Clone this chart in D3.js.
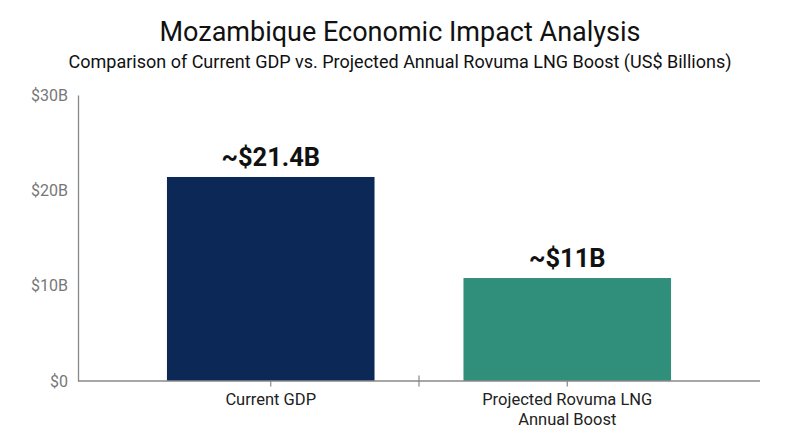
<!DOCTYPE html>
<html>
<head>
<meta charset="utf-8">
<script src="https://cdn.jsdelivr.net/npm/d3@7"></script>
<style>
  body { margin: 0; background: #fff; }
  svg { display: block; font-family: Roboto, "Noto Sans", sans-serif; }
</style>
</head>
<body>
<div id="chart"></div>
<script>
// data
var categories = ["Current GDP", "Projected Rovuma LNG Annual Boost"];
var catLines = [["Current GDP"], ["Projected Rovuma LNG", "Annual Boost"]];
var values = [21.4, 10.8];
var valueLabels = ["~$21.4B", "~$11B"];
var yTicks = [0, 10, 20, 30];
var yTickLabels = ["$0", "$10B", "$20B", "$30B"];
var colors = ["#0c2857", "#2f8f7a"];

var W = 800, H = 447;
var mLeft = 78, mRight = 760, mTop = 95, mBottom = 381;

var svg = d3.select("#chart").append("svg")
  .attr("width", W).attr("height", H);

// titles
svg.append("text").text("Mozambique Economic Impact Analysis")
  .attr("x", W / 2).attr("y", 41)
  .attr("text-anchor", "middle")
  .style("font-size", "27px").style("fill", "#111");
svg.append("text").text("Comparison of Current GDP vs. Projected Annual Rovuma LNG Boost (US$ Billions)")
  .attr("x", W / 2).attr("y", 67.5)
  .attr("text-anchor", "middle")
  .style("font-size", "18px").style("fill", "#111");

var x = d3.scaleBand().domain(categories).range([mLeft, mRight])
  .paddingInner(0.3).paddingOuter(0.3);
var y = d3.scaleLinear().domain([0, 30]).range([mBottom, mTop]);

// y axis (no tick marks)
var yAxis = svg.append("g").attr("transform", "translate(" + mLeft + ",0)")
  .call(d3.axisLeft(y).tickValues(yTicks).tickSize(0).tickPadding(10)
    .tickFormat(function (d, i) { return yTickLabels[i]; }));
yAxis.select(".domain").attr("stroke", "#888").attr("stroke-width", 1.3);
yAxis.selectAll("text").style("font-size", "16px").style("fill", "#777")
  .style("font-family", "Roboto, sans-serif");

// bars
svg.selectAll("rect.bar").data(values).enter().append("rect")
  .attr("class", "bar")
  .attr("x", function (d, i) { return x(categories[i]); })
  .attr("width", x.bandwidth())
  .attr("y", function (d) { return y(d); })
  .attr("height", function (d) { return y(0) - y(d); })
  .style("fill", function (d, i) { return colors[i]; });

// value labels
svg.selectAll("text.val").data(values).enter().append("text")
  .attr("class", "val")
  .attr("x", function (d, i) { return x(categories[i]) + x.bandwidth() / 2; })
  .attr("y", function (d) { return y(d) - 11; })
  .attr("text-anchor", "middle")
  .style("font-size", "25.5px").style("font-weight", "bold").style("fill", "#111")
  .text(function (d, i) { return valueLabels[i]; });

// x axis
svg.append("line")
  .attr("x1", mLeft).attr("x2", mRight).attr("y1", mBottom).attr("y2", mBottom)
  .attr("stroke", "#888").attr("stroke-width", 1.3);

categories.forEach(function (c, i) {
  var cx = x(c) + x.bandwidth() / 2;
  svg.append("line").attr("x1", cx).attr("x2", cx)
    .attr("y1", mBottom).attr("y2", mBottom + 5.5)
    .attr("stroke", "#888").attr("stroke-width", 1.2);
  var t = svg.append("text").attr("text-anchor", "middle")
    .style("font-size", "16.5px").style("fill", "#222");
  catLines[i].forEach(function (ln, j) {
    t.append("tspan").attr("x", cx).attr("y", 405 + j * 20).text(ln);
  });
  if (i > 0) {
    var sx = (x(categories[i - 1]) + x.bandwidth() + x(c)) / 2;
    svg.append("line").attr("x1", sx).attr("x2", sx)
      .attr("y1", mBottom - 5.5).attr("y2", mBottom + 5.5)
      .attr("stroke", "#888").attr("stroke-width", 1.2);
  }
});
</script>
</body>
</html>
